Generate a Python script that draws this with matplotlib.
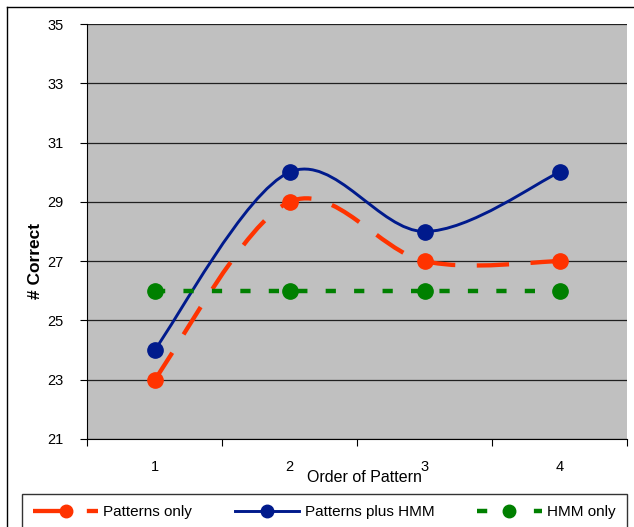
import matplotlib
matplotlib.use("Agg")
import matplotlib.pyplot as plt
from matplotlib.path import Path
from matplotlib.patches import PathPatch
from matplotlib.lines import Line2D
import numpy as np

categories = [1, 2, 3, 4]
patterns_only = [23, 29, 27, 27]
patterns_plus_hmm = [24, 30, 28, 30]
hmm_only = [26, 26, 26, 26]
y_ticks = [21, 23, 25, 27, 29, 31, 33, 35]

plt.rcParams['font.family'] = ['Liberation Sans', 'DejaVu Sans']

W, H = 634, 527
fig = plt.figure(figsize=(W/100, H/100), dpi=100)
L, R, T, B = 87, 627, 24, 439
ax = fig.add_axes([L/W, 1-B/H, (R-L)/W, (B-T)/H])
ax.set_facecolor('#C0C0C0')


def smooth_path(xs, ys):
    pts = np.column_stack([xs, ys]).astype(float)
    n = len(pts)
    verts = [pts[0]]
    codes = [Path.MOVETO]
    for i in range(n - 1):
        p0 = pts[i - 1] if i > 0 else pts[i]
        p1 = pts[i]
        p2 = pts[i + 1]
        p3 = pts[i + 2] if i + 2 < n else pts[i + 1]
        c1 = p1 + (p2 - p0) / 6.0
        c2 = p2 - (p3 - p1) / 6.0
        verts += [c1, c2, p2]
        codes += [Path.CURVE4] * 3
    return Path(verts, codes)


red = '#FF3300'
blue = '#001A8C'
green = '#008000'
red_ls = (0, (7.5, 5.0))
green_ls = (0, (2.3, 4.1))

ax.add_patch(PathPatch(smooth_path(categories, patterns_plus_hmm), fill=False,
                       edgecolor=blue, lw=2.1, zorder=3))
ax.plot(categories, patterns_plus_hmm, 'o', color=blue, ms=11, zorder=4)

ax.add_patch(PathPatch(smooth_path(categories, patterns_only), fill=False,
                       edgecolor=red, lw=3.1, linestyle=red_ls, capstyle='butt', zorder=3))
ax.plot(categories, patterns_only, 'o', color=red, ms=11, zorder=4)

ax.plot(categories, hmm_only, color=green, lw=3.2, linestyle=green_ls,
        dash_capstyle='butt', zorder=3)
ax.plot(categories, hmm_only, 'o', color=green, ms=11, zorder=4, linestyle='none')

ax.set_xlim(0.5, 4.5)
ax.set_ylim(21, 35)
ax.set_yticks(y_ticks)
ax.set_yticklabels([str(v) for v in y_ticks], fontsize=10.5)
ax.yaxis.grid(True, color='#202020', lw=0.9)
ax.set_axisbelow(True)

ax.set_xticks([0.5, 1.5, 2.5, 3.5, 4.5])
ax.set_xticklabels([])
ax.set_xticks(categories, minor=True)
ax.set_xticklabels([str(c) for c in categories], minor=True, fontsize=10.5)
ax.tick_params(axis='x', which='minor', length=0, pad=15)
ax.tick_params(axis='x', which='major', length=5, direction='out')
ax.tick_params(axis='y', length=5, direction='out', pad=12)

for s in ['top', 'right']:
    ax.spines[s].set_visible(False)
ax.spines['left'].set_color('black')
ax.spines['bottom'].set_color('black')

ax.set_xlabel('Order of Pattern', fontsize=11.5)
ax.xaxis.label.set_va('center')
ax.xaxis.set_label_coords((364-L)/(R-L), -(478-B)/(B-T))
ax.set_ylabel('# Correct', fontsize=12.5, fontweight='bold')
ax.yaxis.label.set_va('center')
ax.yaxis.set_label_coords((36-L)/(R-L), 1-(261-T)/(B-T))

handles = [
    Line2D([], [], color=red, lw=3.1, linestyle=red_ls, marker='o', ms=9),
    Line2D([], [], color=blue, lw=2.1, marker='o', ms=9),
    Line2D([], [], color=green, lw=3.2, linestyle=green_ls, marker='o', ms=9),
]
labels = ['Patterns only', 'Patterns plus HMM', 'HMM only']
leg = fig.legend(handles, labels, loc='upper left',
                 bbox_to_anchor=(22/W, 1-494/H-0.05, (627-22)/W, 0.05), mode='expand',
                 ncol=3, fontsize=11, frameon=True, fancybox=False, handlelength=4.2,
                 columnspacing=2.4, borderpad=0.75, handletextpad=0.35, borderaxespad=0)
leg.get_frame().set_edgecolor('black')
leg.get_frame().set_linewidth(1.0)
leg.get_frame().set_facecolor('white')

fig.add_artist(Line2D([7/W, 7/W], [0, 1-7/H], color='black', lw=1.0,
                      transform=fig.transFigure))
fig.add_artist(Line2D([7/W, 1], [1-7/H, 1-7/H], color='black', lw=1.0,
                      transform=fig.transFigure))

fig.savefig('out.png', dpi=100)
